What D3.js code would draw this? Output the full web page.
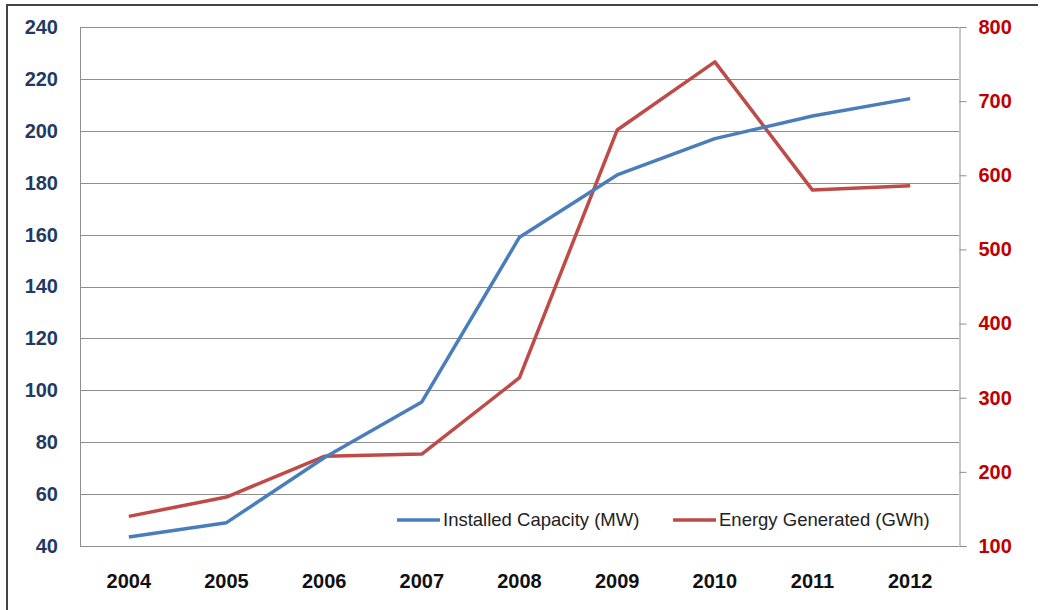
<!DOCTYPE html>
<html>
<head>
<meta charset="utf-8">
<script src="https://cdn.jsdelivr.net/npm/d3@7/dist/d3.min.js"></script>
<style>
  html, body { margin: 0; padding: 0; background: #fff; }
  svg { display: block; }
</style>
</head>
<body>
<svg id="chart" width="1041" height="610"></svg>
<script>
const years = ["2004","2005","2006","2007","2008","2009","2010","2011","2012"];
const capacityMW = [43.5, 49, 74, 95.5, 159, 183, 197, 205.7, 212.4];
const energyGWh = [140, 166, 221, 224, 327, 661, 753, 580, 586];
const leftTicks = [40, 60, 80, 100, 120, 140, 160, 180, 200, 220, 240];
const rightTicks = [100, 200, 300, 400, 500, 600, 700, 800];
const seriesNames = ["Installed Capacity (MW)", "Energy Generated (GWh)"];

const svg = d3.select("#chart");
const m = { left: 80, right: 959, top: 27, bottom: 546 };
const font = "'Liberation Sans', Arial, sans-serif";

// outer border (left and top visible)
svg.append("line").attr("x1", 7).attr("x2", 7).attr("y1", 4).attr("y2", 610)
  .attr("stroke", "#444").attr("stroke-width", 2);
svg.append("line").attr("x1", 7).attr("x2", 1038).attr("y1", 5).attr("y2", 5)
  .attr("stroke", "#444").attr("stroke-width", 2);

const x = d3.scaleBand().domain(years).range([m.left, m.right]).padding(0);
const yL = d3.scaleLinear().domain([40, 240]).range([m.bottom, m.top]);
const yR = d3.scaleLinear().domain([100, 800]).range([m.bottom, m.top]);

// gridlines
svg.append("g").selectAll("line").data(leftTicks).join("line")
  .attr("x1", m.left).attr("x2", m.right)
  .attr("y1", d => Math.round(yL(d)) + 0.5).attr("y2", d => Math.round(yL(d)) + 0.5)
  .attr("stroke", "#8e8e8e").attr("stroke-width", 1);

// left axis line
svg.append("line").attr("x1", m.left + 0.5).attr("x2", m.left + 0.5)
  .attr("y1", m.top).attr("y2", m.bottom).attr("stroke", "#8e8e8e");

// right axis
const rAxis = d3.axisRight(yR).tickValues(rightTicks).tickSize(7).tickPadding(12);
const gR = svg.append("g").attr("transform", `translate(${m.right + 0.5},0)`).call(rAxis);
gR.select(".domain").attr("stroke", "#8e8e8e");
gR.selectAll(".tick line").attr("stroke", "#8e8e8e");
gR.selectAll(".tick text").attr("fill", "#c00000")
  .style("font-family", font).style("font-size", "20px").style("font-weight", "bold");

// left axis labels
const lAxis = d3.axisLeft(yL).tickValues(leftTicks).tickSize(0).tickPadding(22);
const gL = svg.append("g").attr("transform", `translate(${m.left},0)`).call(lAxis);
gL.select(".domain").remove();
gL.selectAll(".tick text").attr("fill", "#1f3a64")
  .style("font-family", font).style("font-size", "20px").style("font-weight", "bold");

// bottom axis
const bAxis = d3.axisBottom(x).tickSize(0).tickPadding(27);
const gB = svg.append("g").attr("transform", `translate(0,${m.bottom + 0.5})`).call(bAxis);
gB.select(".domain").attr("stroke", "#8e8e8e").attr("d", `M${m.left},0H${m.right}`);
gB.selectAll(".tick text").attr("fill", "#111")
  .style("font-family", font).style("font-size", "20px").style("font-weight", "bold");

const cx = d => x(d) + x.bandwidth() / 2;

// lines
const lineL = d3.line().x((d, i) => cx(years[i])).y(d => yL(d));
const lineR = d3.line().x((d, i) => cx(years[i])).y(d => yR(d));

svg.append("path").datum(energyGWh).attr("d", lineR)
  .attr("fill", "none").attr("stroke", "#be4b48").attr("stroke-width", 3.5)
  .attr("stroke-linejoin", "round");
svg.append("path").datum(capacityMW).attr("d", lineL)
  .attr("fill", "none").attr("stroke", "#4a7ebb").attr("stroke-width", 3.5)
  .attr("stroke-linejoin", "round");

// legend
const legend = [
  { name: seriesNames[0], color: "#4a7ebb", x: 397 },
  { name: seriesNames[1], color: "#be4b48", x: 673 }
];
const lg = svg.append("g").selectAll("g").data(legend).join("g")
  .attr("transform", d => `translate(${d.x},520)`);
lg.append("line").attr("x1", 0).attr("x2", 43).attr("y1", 0).attr("y2", 0)
  .attr("stroke", d => d.color).attr("stroke-width", 3.5);
lg.append("text").attr("x", 46).attr("y", 0).attr("dy", "0.35em")
  .attr("fill", "#222").style("font-family", font).style("font-size", "18.5px")
  .text(d => d.name);
</script>
</body>
</html>
